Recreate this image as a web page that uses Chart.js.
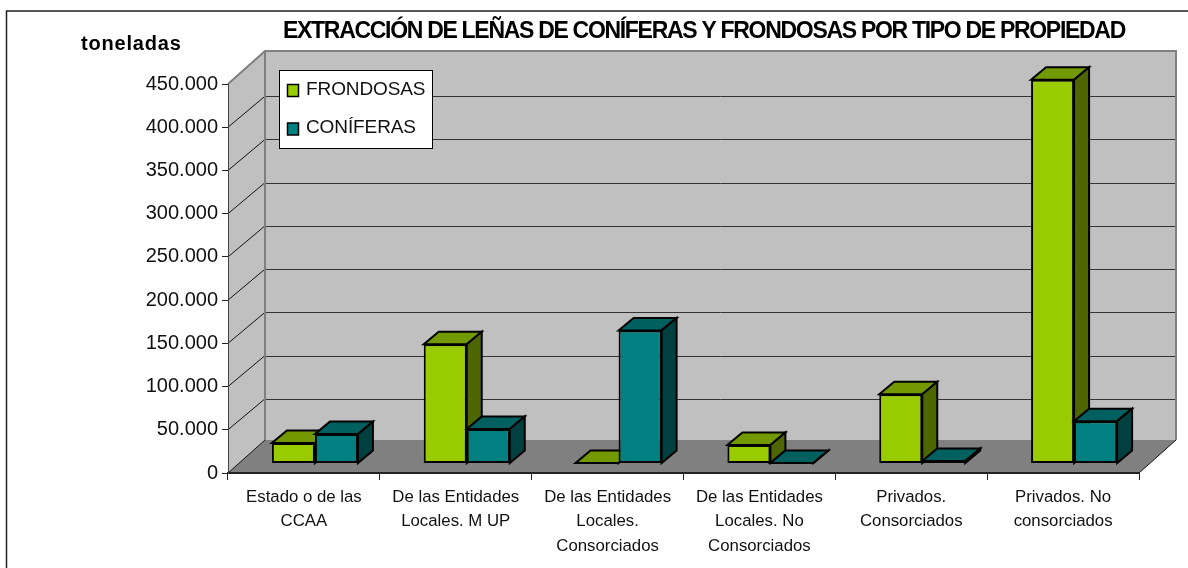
<!DOCTYPE html>
<html><head><meta charset="utf-8">
<style>html,body{margin:0;padding:0;background:#fff}#w{width:1188px;height:568px;position:relative}</style>
<script src="https://cdn.jsdelivr.net/npm/chart.js@4/dist/chart.umd.min.js"></script>
</head><body><div id="w"><canvas id="c" width="1188" height="568"></canvas></div>
<script>
const chartTitle = "EXTRACCIÓN DE LEÑAS DE CONÍFERAS Y FRONDOSAS POR TIPO DE PROPIEDAD";
const yTitle = "toneladas";
const categories = [
  ["Estado o de las","CCAA"],
  ["De las Entidades","Locales. M UP"],
  ["De las Entidades","Locales.","Consorciados"],
  ["De las Entidades","Locales. No","Consorciados"],
  ["Privados.","Consorciados"],
  ["Privados. No","consorciados"]
];
const frondosas = [23700,138000,500,21500,80000,444000];
const coniferas = [34000,40000,154000,500,3000,49000];

const fmt = v => v === 0 ? "0" : String(v/1000) + ".000";
const wallDX = 37, wallDY = 33, gridDY = 31, barDX = 11, barDY = 9.5, depthX = 15, depthY = 12.5;
const faces = [
  {top:"#739900", side:"#4D6600"},
  {top:"#006060", side:"#004040"}
];

function poly(ctx, pts, fill, stroke, lw){
  ctx.beginPath();
  pts.forEach((p,i)=> i?ctx.lineTo(p[0],p[1]):ctx.moveTo(p[0],p[1]));
  ctx.closePath();
  if(fill){ctx.fillStyle=fill;ctx.fill();}
  if(stroke){ctx.strokeStyle=stroke;ctx.lineWidth=lw;ctx.lineJoin="miter";ctx.stroke();}
}
function drawFaces(chart,index){
  const ctx=chart.ctx, f=faces[index];
  chart.getDatasetMeta(index).data.forEach(el=>{
    const {x,y,base,width}=el.getProps(["x","y","base","width"],true);
    const l=x-width/2, r=x+width/2;
    poly(ctx,[[l,y],[r,y],[r+depthX,y-depthY],[l+depthX,y-depthY]],f.top,"#000",2);
    poly(ctx,[[r,y],[r+depthX,y-depthY],[r+depthX,base-depthY],[r,base]],f.side,"#000",2);
  });
}

const scene = {
  id:"scene",
  beforeDraw(chart){
    const {ctx, chartArea:a, scales:{y}} = chart;
    ctx.save();
    ctx.fillStyle="#fff"; ctx.fillRect(0,0,chart.width,chart.height);
    // frame: only its top and left edges fall inside the picture
    ctx.strokeStyle="#222"; ctx.lineWidth=1.5;
    ctx.beginPath();ctx.moveTo(6.5,chart.height);ctx.lineTo(6.5,11);ctx.lineTo(chart.width,11);ctx.stroke();
    // walls
    poly(ctx,[[a.left+wallDX,a.top-wallDY],[a.right+wallDX,a.top-wallDY],[a.right+wallDX,a.bottom-wallDY],[a.left+wallDX,a.bottom-wallDY]],"#C0C0C0");
    poly(ctx,[[a.left,a.top],[a.left+wallDX,a.top-wallDY],[a.left+wallDX,a.bottom-wallDY],[a.left,a.bottom]],"#C0C0C0");
    poly(ctx,[[a.left,a.bottom],[a.right,a.bottom],[a.right+wallDX,a.bottom-wallDY],[a.left+wallDX,a.bottom-wallDY]],"#808080");
    // gridlines
    y.ticks.forEach(t=>{
      if(t.value===0) return;
      const py=y.getPixelForValue(t.value);
      if(t.value<450000){
        ctx.strokeStyle="#333"; ctx.lineWidth=1;
        ctx.beginPath();ctx.moveTo(a.left+wallDX,Math.round(py-gridDY)+.5);ctx.lineTo(a.right+wallDX,Math.round(py-gridDY)+.5);ctx.stroke();
        ctx.strokeStyle="#111";
        ctx.beginPath();ctx.moveTo(a.left,py);ctx.lineTo(a.left+wallDX,py-gridDY);ctx.stroke();
      } else {
        ctx.strokeStyle="#808080"; ctx.lineWidth=1;
        ctx.beginPath();ctx.moveTo(a.left,py);ctx.lineTo(a.left+wallDX,py-wallDY);ctx.stroke();
      }
    });
    // wall edges
    ctx.strokeStyle="#808080"; ctx.lineWidth=2;
    ctx.beginPath();
    ctx.moveTo(a.left,a.top);ctx.lineTo(a.left+wallDX,a.top-wallDY);ctx.lineTo(a.right+wallDX,a.top-wallDY);ctx.lineTo(a.right+wallDX,a.bottom-wallDY);
    ctx.moveTo(a.left+wallDX,a.top-wallDY);ctx.lineTo(a.left+wallDX,a.bottom-wallDY);
    ctx.stroke();
    ctx.lineWidth=1; ctx.strokeStyle="#111";
    ctx.beginPath();ctx.moveTo(a.left,a.bottom);ctx.lineTo(a.left+wallDX,a.bottom-wallDY);ctx.moveTo(a.right,a.bottom);ctx.lineTo(a.right+wallDX,a.bottom-wallDY);ctx.stroke();
    ctx.restore();
  },
  beforeDatasetsDraw(chart){ chart.ctx.save(); chart.ctx.translate(barDX,-barDY); },
  // Chart.js paints the last dataset first; the second series has to sit in front, so it is held back.
  beforeDatasetDraw(chart,args){
    if(args.index===1) return false;
    drawFaces(chart,0);
  },
  afterDatasetDraw(chart,args){
    if(args.index!==0) return;
    drawFaces(chart,1);
    chart.getDatasetMeta(1).controller.draw();
  },
  afterDatasetsDraw(chart){
    const ctx=chart.ctx; ctx.restore();
    ctx.save();
    ctx.fillStyle="#fff"; ctx.fillRect(279.5,70.5,153,78);
    ctx.strokeStyle="#000"; ctx.lineWidth=1; ctx.strokeRect(279.5,70.5,153,78);
    ctx.textBaseline="middle"; ctx.textAlign="left";
    chart.data.datasets.forEach((d,i)=>{
      const cy = i? 129 : 90.5;
      ctx.fillStyle=d.backgroundColor; ctx.fillRect(287.5,cy-6,11,12);
      ctx.strokeStyle="#000"; ctx.lineWidth=1.5; ctx.strokeRect(287.5,cy-6,11,12);
      ctx.fillStyle="#111"; ctx.font='19px "Liberation Sans"'; ctx.letterSpacing="-0.1px";
      ctx.fillText(d.label,306,cy-1);
    });
    ctx.fillStyle="#000";
    ctx.font='bold 23px "Liberation Sans"'; ctx.letterSpacing="-1.3px";
    ctx.fillText(chartTitle,283,32);
    ctx.font='bold 20px "Liberation Sans"'; ctx.letterSpacing="0.8px";
    ctx.fillText(yTitle,81,44);
    ctx.restore();
  }
};

new Chart(document.getElementById("c"),{
  type:"bar",
  data:{labels:categories,datasets:[
    {label:"FRONDOSAS",data:frondosas,backgroundColor:"#99CC00",borderColor:"#000",borderWidth:2,borderSkipped:false,clip:false},
    {label:"CONÍFERAS",data:coniferas,backgroundColor:"#008080",borderColor:"#000",borderWidth:2,borderSkipped:false,clip:false}
  ]},
  plugins:[scene],
  options:{
    responsive:false,animation:false,
    layout:{padding:{top:84,right:49,left:0,bottom:0}},
    plugins:{legend:{display:false},title:{display:false},tooltip:{enabled:false}},
    datasets:{bar:{categoryPercentage:0.5666,barPercentage:1}},
    scales:{
      x:{
        afterFit(s){s.height=95;},
        grid:{offset:true,drawOnChartArea:false,drawTicks:true,tickLength:7,color:"#222",lineWidth:1},
        border:{display:true,color:"#222",width:2},
        ticks:{color:"#111",maxRotation:0,autoSkip:false,padding:5,font:{family:"Liberation Sans",size:16.8,lineHeight:1.46}}
      },
      y:{
        min:0,max:450000,
        afterFit(s){s.width=228;},
        grid:{drawOnChartArea:false,drawTicks:true,tickLength:6,color:"#222",lineWidth:1},
        border:{display:true,color:"#444",width:1},
        ticks:{stepSize:50000,color:"#111",padding:4,callback:v=>fmt(v),font:{family:"Liberation Sans",size:20}}
      }
    }
  }
});
</script></body></html>
